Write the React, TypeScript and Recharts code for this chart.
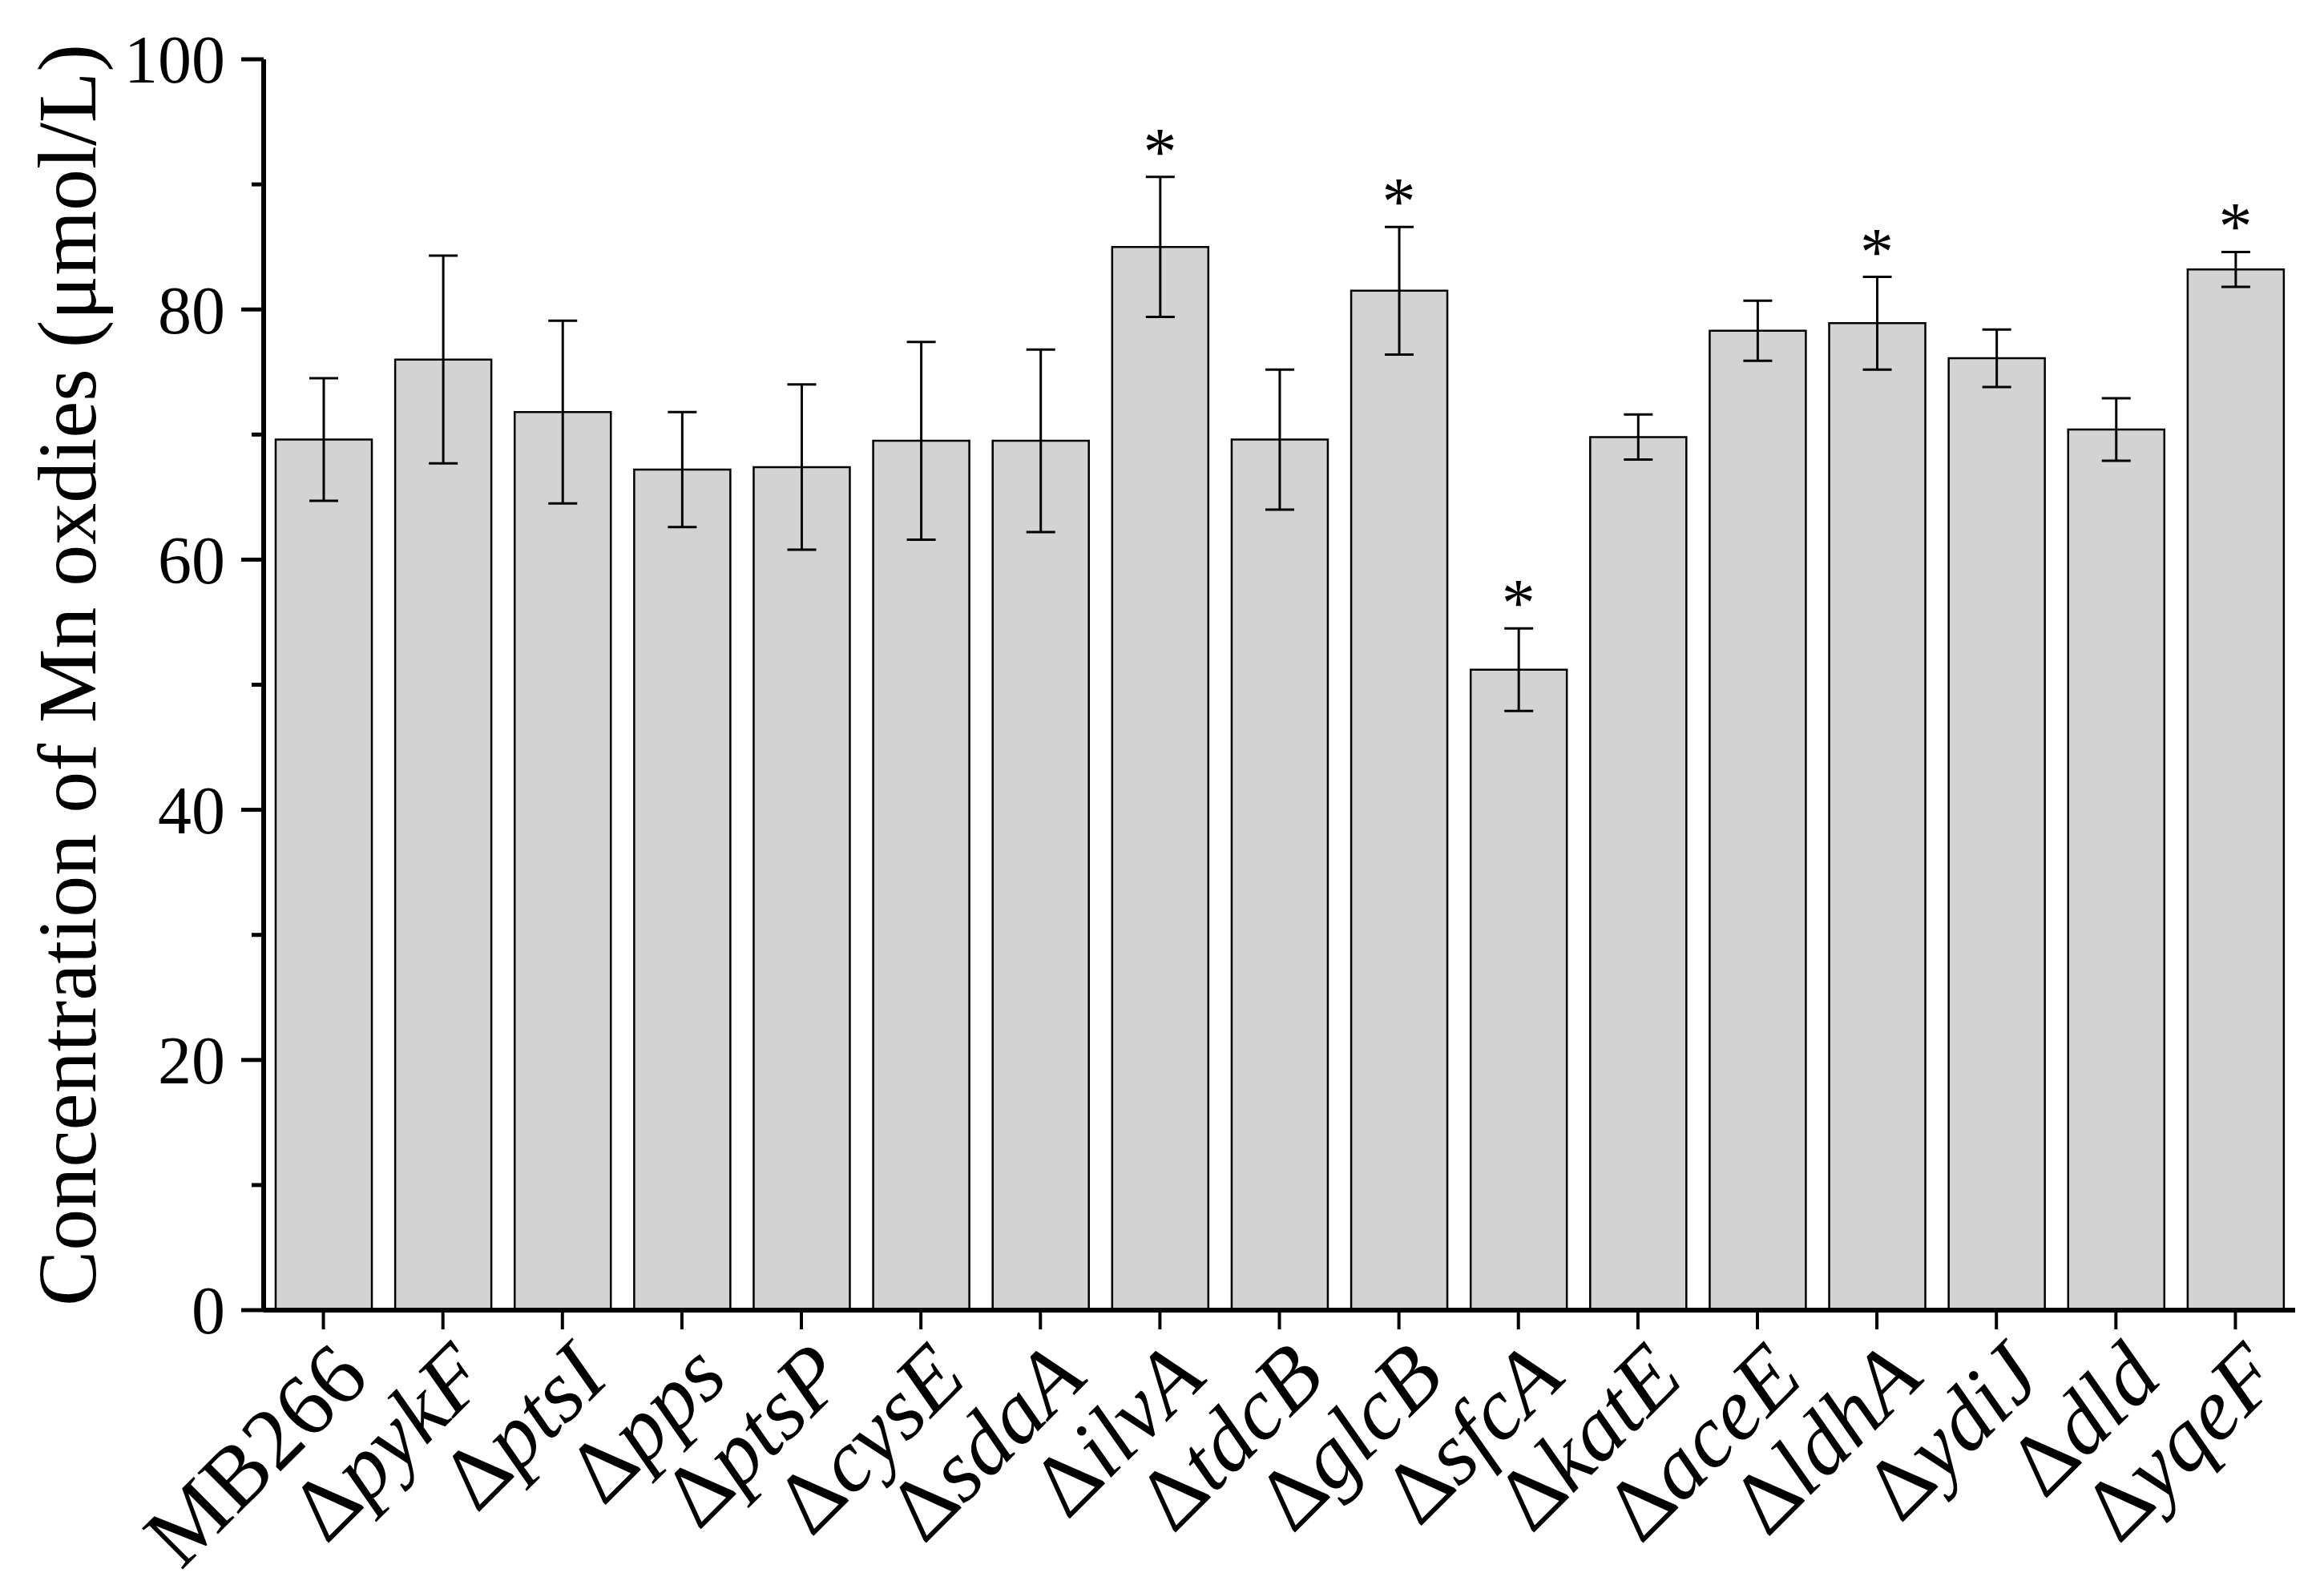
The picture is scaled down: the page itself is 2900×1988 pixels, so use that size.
import { ComposedChart, Bar, Scatter, XAxis, YAxis, ErrorBar } from "recharts";

const FONT = '"Liberation Serif", "Times New Roman", serif';

const strains = [
  "MB266", "pykF", "ptsI", "pps", "ptsP", "cysE", "sdaA", "ilvA", "tdcB",
  "glcB", "sfcA", "katE", "aceE", "ldhA", "ydiJ", "dld", "yqeF",
];
const means = [
  69.6, 76.0, 71.8, 67.2, 67.4, 69.5, 69.5, 85.0, 69.6,
  81.5, 51.2, 69.8, 78.3, 78.9, 76.1, 70.4, 83.2,
];
const errors = [
  4.9, 8.3, 7.3, 4.6, 6.6, 7.9, 7.3, 5.6, 5.6,
  5.1, 3.3, 1.8, 2.4, 3.7, 2.3, 2.5, 1.4,
];
const significant = [
  false, false, false, false, false, false, false, true, false,
  true, true, false, false, true, false, false, true,
];
const yTicks = [0, 10, 20, 30, 40, 50, 60, 70, 80, 90, 100];

const data = strains.map((name, i) => ({
  name,
  mean: means[i],
  err: errors[i],
  star: significant[i] ? means[i] + errors[i] : null,
}));

function YTick({ x, y, payload }: any) {
  const major = payload.value % 20 === 0;
  return (
    <g>
      <line x1={x} x2={x - (major ? 28 : 15)} y1={y} y2={y} stroke="#000" strokeWidth={5} />
      {major && (
        <text x={x - 48} y={y} dy="0.35em" textAnchor="end" fontSize={84} fontFamily={FONT} fill="#000">
          {payload.value}
        </text>
      )}
    </g>
  );
}

// wild type upright, mutants: upright delta + italic gene name
function XTick({ x, y, payload }: any) {
  const name: string = payload.value;
  const wildType = name === "MB266";
  const ax = x + 60;
  const ay = y + 88;
  return (
    <g>
      <line x1={x} x2={x} y1={y} y2={y + 24} stroke="#000" strokeWidth={4} />
      <text
        x={ax}
        y={ay}
        transform={`rotate(-45, ${ax}, ${ay})`}
        textAnchor="end"
        fontSize={110}
        fontFamily={FONT}
        fill="#000"
      >
        {wildType ? (
          name
        ) : (
          <>
            <tspan>{"\u0394"}</tspan>
            <tspan fontStyle="italic">{name}</tspan>
          </>
        )}
      </text>
    </g>
  );
}

function Star({ cx, cy, payload }: any) {
  if (payload == null || payload.star == null) return null;
  return (
    <text x={cx} y={cy - 3} textAnchor="middle" fontSize={84} fontFamily={FONT} fill="#000">
      *
    </text>
  );
}

export default function App() {
  return (
    <div style={{ position: "absolute", left: 0, top: 0, width: 2900, height: 1988, background: "#fff" }}>
      <ComposedChart
        width={2900}
        height={1988}
        data={data}
        margin={{ top: 74, right: 36, bottom: 53, left: 0 }}
        barSize={120}
      >
        <XAxis
          dataKey="name"
          height={300}
          interval={0}
          tickSize={0}
          tickMargin={0}
          axisLine={{ stroke: "#000", strokeWidth: 6 }}
          tickLine={false}
          tick={<XTick />}
        />
        <YAxis
          type="number"
          domain={[0, 100]}
          ticks={yTicks}
          width={329}
          interval={0}
          tickSize={0}
          tickMargin={0}
          axisLine={{ stroke: "#000", strokeWidth: 6 }}
          tickLine={false}
          tick={<YTick />}
          label={(props: any) => {
            const vb = props.viewBox;
            const cy = vb.y + vb.height / 2 - 12;
            return (
              <text
                x={83}
                y={cy}
                transform={`rotate(-90, 83, ${cy})`}
                textAnchor="middle"
                dominantBaseline="central"
                fontSize={104}
                fontFamily={FONT}
                fill="#000"
              >
                Concentration of Mn oxdies (μmol/L)
              </text>
            );
          }}
        />
        <Bar dataKey="mean" fill="#d3d3d3" stroke="#000" strokeWidth={2.5} isAnimationActive={false}>
          <ErrorBar dataKey="err" width={18} stroke="#000" strokeWidth={3} direction="y" />
        </Bar>
        <Scatter dataKey="star" shape={<Star />} isAnimationActive={false} />
      </ComposedChart>
    </div>
  );
}
